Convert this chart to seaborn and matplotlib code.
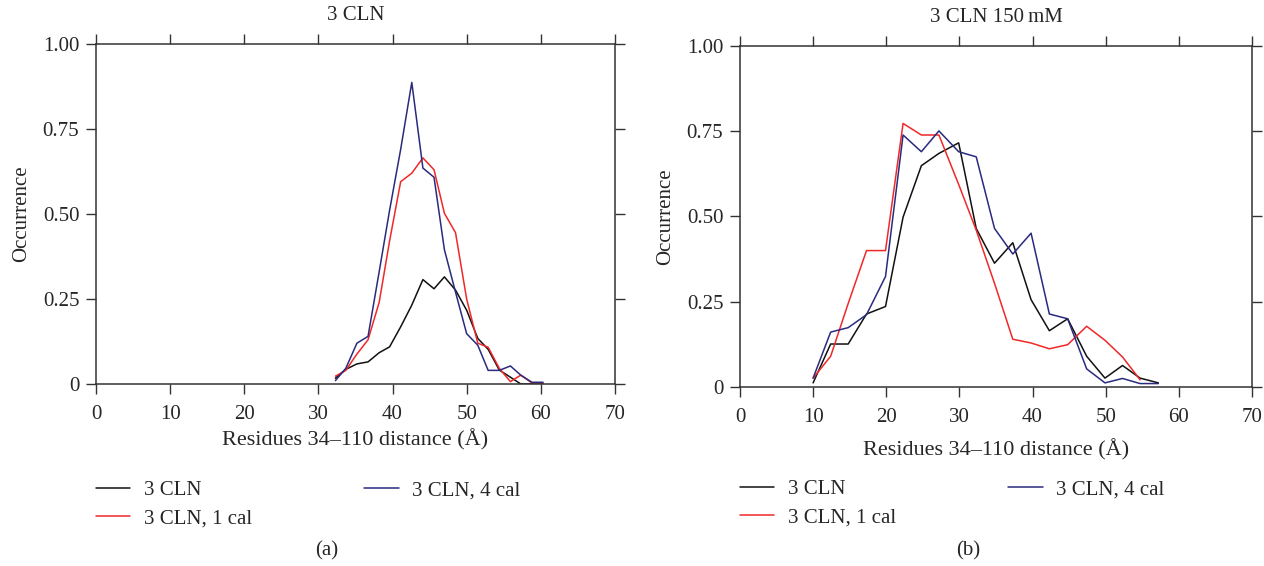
import numpy as np
import pandas as pd
import seaborn as sns
import matplotlib.pyplot as plt

# panel (a): 3 CLN
xa = [32.3, 33.7, 35.2, 36.7, 38.2, 39.6, 41.1, 42.6, 44.1, 45.6,
      47.0, 48.5, 50.0, 51.5, 52.9, 54.4, 55.9, 57.3, 58.8, 60.3]
a_cln = [0.017, 0.043, 0.059, 0.065, 0.092, 0.109, 0.168, 0.232, 0.307, 0.280,
         0.315, 0.276, 0.217, 0.134, 0.102, 0.041, 0.020, 0.0, 0.0, 0.0]
a_1cal = [0.023, 0.040, 0.088, 0.130, 0.240, 0.420, 0.595, 0.620, 0.665, 0.630,
          0.502, 0.445, 0.250, 0.120, 0.108, 0.046, 0.007, 0.026, 0.003, 0.003]
a_4cal = [0.010, 0.046, 0.120, 0.140, 0.330, 0.510, 0.690, 0.887, 0.635, 0.608,
          0.395, 0.270, 0.148, 0.114, 0.040, 0.040, 0.053, 0.026, 0.005, 0.005]

# panel (b): 3 CLN 150 mM
xb = [10.0, 12.4, 14.8, 17.3, 19.9, 22.3, 24.8, 27.2, 29.9, 32.3,
      34.8, 37.3, 39.8, 42.3, 44.8, 47.4, 49.9, 52.3, 54.7, 57.2]
b_cln = [0.012, 0.126, 0.126, 0.214, 0.236, 0.498, 0.649, 0.685, 0.716, 0.465,
         0.363, 0.423, 0.256, 0.165, 0.200, 0.090, 0.026, 0.063, 0.026, 0.012]
b_1cal = [0.026, 0.090, 0.245, 0.400, 0.400, 0.773, 0.739, 0.739, 0.594, 0.460,
          0.304, 0.140, 0.129, 0.112, 0.124, 0.178, 0.137, 0.088, 0.021]
b_4cal = [0.026, 0.161, 0.174, 0.212, 0.324, 0.739, 0.690, 0.751, 0.690, 0.675,
          0.465, 0.390, 0.451, 0.214, 0.200, 0.053, 0.012, 0.025, 0.010, 0.010]

names = ["3 CLN", "3 CLN, 1 cal", "3 CLN, 4 cal"]
colors = ["#111111", "#f02828", "#2a2a7e"]
yticks = [0, 0.25, 0.5, 0.75, 1.0]
ytick_labels = ["0", "0.25", "0.50", "0.75", "1.00"]
titles = ["3 CLN", "3 CLN 150\u2009mM"]
xlabel = "Residues 34\u2013110 distance (\u00c5)"


def long_df(x, series):
    parts = []
    for name, ys in zip(names, series):
        parts.append(pd.DataFrame({"x": x[:len(ys)], "y": ys, "series": name}))
    return pd.concat(parts, ignore_index=True)


df_a = long_df(xa, [a_cln, a_1cal, a_4cal])
df_b = long_df(xb, [b_cln, b_1cal, b_4cal])

sns.set_style("ticks")
plt.rcParams["font.family"] = ["Liberation Serif", "DejaVu Serif"]
plt.rcParams["font.size"] = 15

fig = plt.figure(figsize=(12.64, 5.66), dpi=100)
ax_a = fig.add_axes([0.0759, 0.3216, 0.4106, 0.6007])
ax_b = fig.add_axes([0.5854, 0.3163, 0.4051, 0.6024])

panels = [(ax_a, df_a, titles[0], 4, -0.284),
          (ax_b, df_b, titles[1], 9, -0.272)]

for ax, df, title, lpad, leg_y in panels:
    sns.lineplot(data=df, x="x", y="y", hue="series", hue_order=names,
                 palette=colors, sort=False, estimator=None, linewidth=1.1,
                 legend=False, ax=ax)
    ax.set_xlim(0, 70)
    ax.set_ylim(0, 1)
    ax.set_xticks(range(0, 71, 10))
    ax.set_yticks(yticks)
    ax.set_yticklabels(ytick_labels)
    ax.tick_params(top=True, right=True, direction="out", length=7,
                   width=1, color="#333333", labelsize=15)
    ax.tick_params(axis="x", pad=8)
    ax.tick_params(axis="y", pad=5)
    for sp in ax.spines.values():
        sp.set_color("#333333")
        sp.set_linewidth(1.1)
    ax.set_xlabel(xlabel, fontsize=16, labelpad=lpad)
    ax.set_ylabel("Occurrence", fontsize=15, labelpad=8)
    ax.set_title(title, fontsize=15, pad=17)
    ax.legend(ax.get_lines(), names, loc="upper left",
              bbox_to_anchor=(0.0, leg_y), ncol=2, frameon=False,
              fontsize=15, handlelength=1.65, handletextpad=0.65,
              labelspacing=0.42, columnspacing=5.4, borderpad=0,
              borderaxespad=0)

fig.text(0.2587, 0.027, "(a)", ha="center", va="center", fontsize=15)
fig.text(0.7658, 0.027, "(b)", ha="center", va="center", fontsize=15)

plt.savefig("out.png", dpi=100)
